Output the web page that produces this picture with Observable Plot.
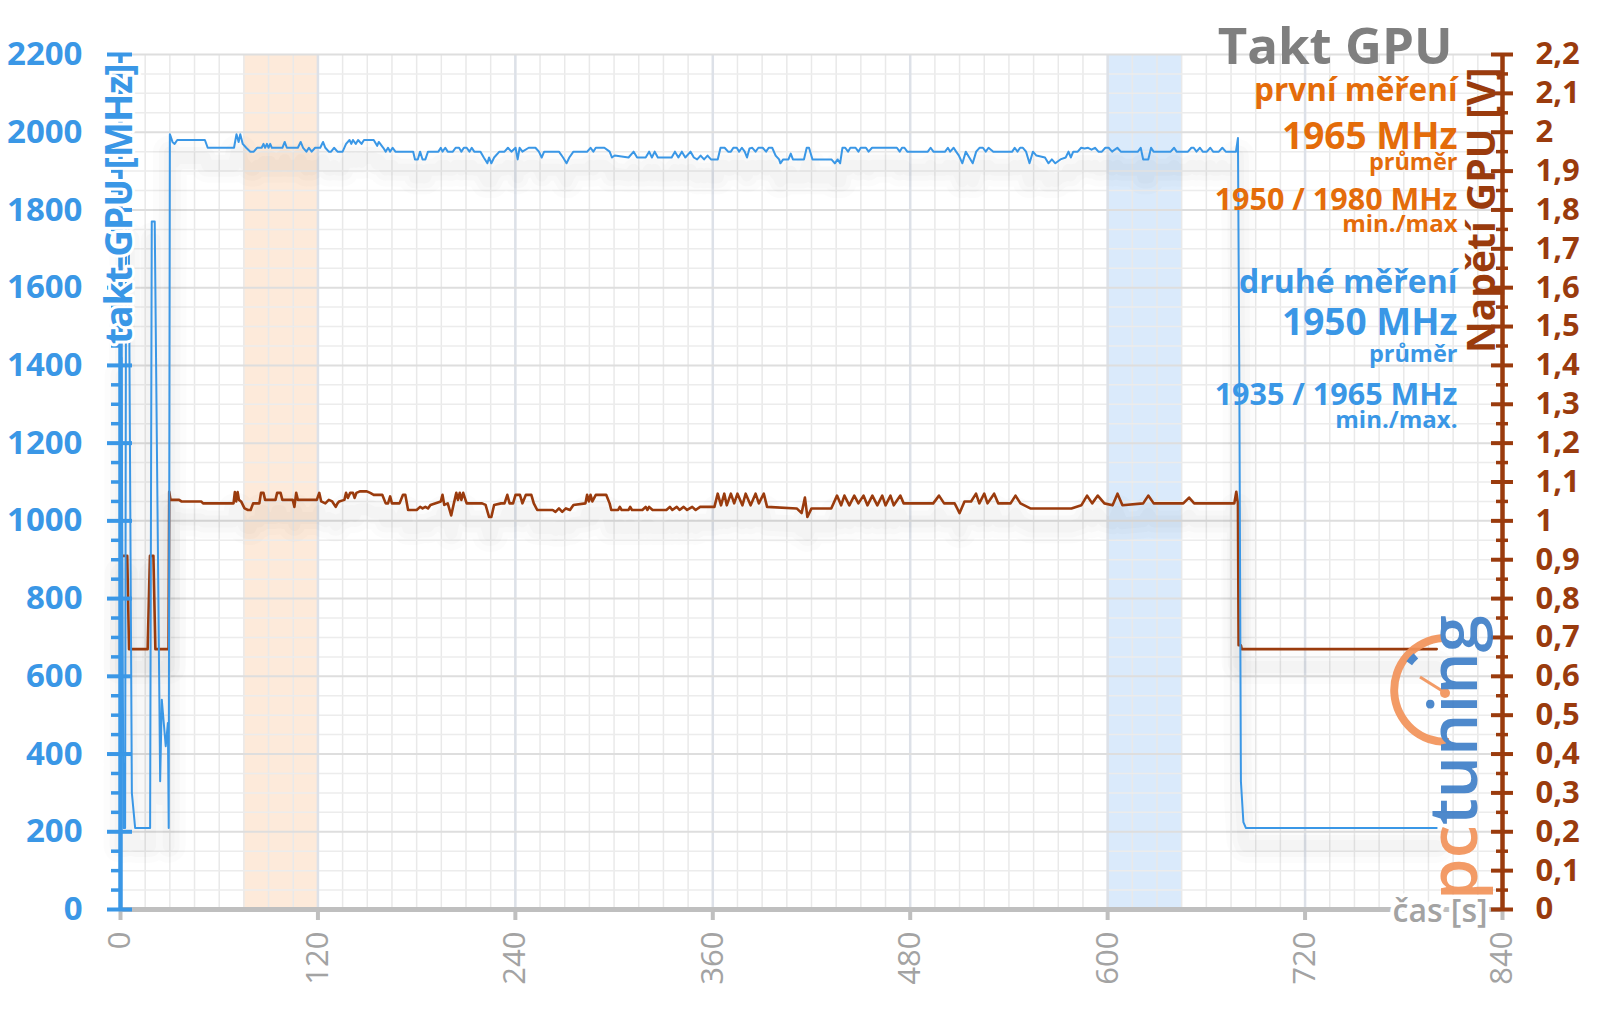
<!DOCTYPE html>
<html><head><meta charset="utf-8">
<script src="https://cdn.jsdelivr.net/npm/d3@7"></script>
<script src="https://cdn.jsdelivr.net/npm/@observablehq/plot@0.6"></script>
<style>
html,body{margin:0;padding:0;background:#fff;}
#chart{position:relative;width:1600px;height:1009px;overflow:hidden;}
svg{font-family:"Open Sans",sans-serif;}
</style></head><body><div id="chart"></div>
<script>
// ---------- data ----------
// GPU clock [s, MHz]
const clockSamples = [
[0,210],[0.6,1420],[1.8,210],[2.8,210],[3.4,1770],[5,1770],[6.9,300],[8.9,210],[18,210],[19,1770],[20.8,1770],[24.1,330],[25.1,540],[27.5,420],[28.8,480],[29.3,210],
[30,1995],[31.6,1975],[32.9,1970],[34.5,1980],[51.3,1980],[53,1960],[69,1960],[70.5,1995],[71.8,1975],[72.8,1995],[74.3,1970],[76.4,1960],[78.9,1950],[81,1950],[83,1960],
[85.8,1960],[86.9,1970],[87.9,1960],[89,1970],[90,1960],[91,1970],[92,1960],[98.4,1960],[99.8,1975],[101.1,1960],[107.8,1960],[109.5,1975],[111,1960],[113,1950],[114.5,1960],
[116.2,1950],[118.3,1960],[121.4,1960],[123.1,1975],[124.5,1960],[126.6,1950],[128,1950],[129.8,1960],[131.9,1950],[135,1950],[137.1,1970],[139.2,1980],[140.3,1970],[141.3,1980],
[143,1970],[144.4,1980],[146.5,1970],[148,1980],[153.9,1980],[156,1965],[157,1975],[159.7,1960],[161.2,1950],[162.6,1960],[163.9,1950],[165.4,1960],[167.1,1950],[177.9,1950],
[179,1930],[180.7,1930],[182.1,1950],[183.6,1930],[185.3,1930],[186.9,1950],[193.2,1950],[194.7,1960],[195.7,1950],[197.4,1960],[198.9,1950],[202,1950],[203.7,1960],[205.8,1960],
[207.2,1950],[208.7,1960],[210.4,1960],[212.1,1950],[213.5,1960],[215,1950],[218.8,1950],[220.8,1935],[223,1920],[224,1935],[225.4,1920],[227.1,1935],[230.3,1950],[233.4,1950],
[235.5,1960],[237.6,1950],[240.1,1960],[241.4,1930],[242.6,1960],[244.3,1950],[248.1,1960],[252.2,1960],[254.3,1950],[256,1935],[257.5,1950],[266.5,1950],[269,1935],[271.1,1920],
[272.8,1935],[275.3,1950],[283.7,1950],[285.7,1960],[287.4,1950],[288.9,1960],[294.1,1960],[297.3,1950],[298.7,1935],[300.4,1940],[308.8,1935],[311.9,1950],[314,1935],[319.2,1935],
[321.3,1950],[323,1935],[324.7,1950],[326.6,1935],[335,1935],[337,1950],[339.1,1935],[341.2,1950],[343.3,1935],[346.5,1950],[348.5,1935],[350.5,1930],[352.6,1940],[354.7,1930],
[356.8,1940],[358.9,1930],[363,1930],[364.7,1960],[367.2,1960],[369.3,1950],[371,1950],[372.5,1960],[374.6,1960],[376,1950],[377.7,1960],[379.4,1950],[380.8,1935],[382.3,1958],
[384,1960],[386,1950],[387.7,1960],[390.3,1960],[392.4,1950],[394,1960],[396.1,1960],[398.2,1940],[400.3,1930],[401.1,1920],[402.8,1930],[406,1930],[407.4,1945],[408.7,1930],
[415.4,1930],[417.1,1960],[418.5,1960],[420.6,1930],[432.1,1930],[434.2,1920],[435.9,1930],[437.4,1920],[438.8,1960],[440.5,1960],[442.2,1950],[443.6,1960],[446.8,1960],[448.5,1950],
[449.9,1960],[453.1,1960],[454.7,1950],[456.8,1960],[471.9,1960],[473.6,1950],[475,1960],[476.5,1960],[478.2,1950],[490.7,1950],[492.4,1960],[494.1,1950],[501.2,1950],[502.9,1960],
[504.3,1950],[506.4,1960],[507.9,1950],[509.6,1940],[511.7,1920],[513.8,1950],[515.9,1935],[518,1920],[520.1,1950],[522.1,1960],[524.2,1960],[525.9,1950],[527.6,1960],[530.5,1950],
[542,1950],[543.5,1960],[545.2,1950],[546.8,1960],[548.5,1960],[550.4,1950],[552.5,1920],[554.6,1950],[556.7,1940],[561.9,1935],[564,1920],[566.1,1930],[568.2,1920],[571.3,1930],
[574.5,1935],[576.2,1950],[577.6,1935],[579.1,1950],[581.8,1950],[583.9,1960],[586,1958],[588.1,1960],[590.2,1955],[592.3,1960],[594.4,1950],[596.5,1950],[598.6,1960],[600.6,1960],
[602.7,1950],[605.9,1960],[608,1950],[618.4,1950],[620.1,1960],[621.6,1930],[624.7,1930],[626.4,1960],[627.9,1950],[638.3,1950],[640.4,1960],[641.9,1950],[648.8,1950],[650.9,1960],
[652.3,1960],[654,1950],[656.1,1960],[657.8,1950],[660.3,1950],[662.4,1960],[664.1,1950],[667.6,1950],[669.7,1960],[671.8,1950],[674.5,1950],[678,1950],[679.2,1985],[680,1400],
[681,330],[682.5,225],[684,210],[800,210]
];
// GPU voltage [s, V]
const voltSamples = [
[0,0.67],[0.6,0.91],[4.1,0.91],[5.2,0.67],[16.5,0.67],[17.9,0.91],[20,0.91],[21.2,0.67],[29.2,0.67],[29.6,1.075],[30.4,1.054],[35.6,1.054],[37,1.05],[49,1.05],[50.2,1.045],
[68.7,1.045],[69.5,1.074],[70.3,1.05],[71.2,1.074],[72,1.054],[73.3,1.05],[75.4,1.032],[77.5,1.028],[79.1,1.028],[80.6,1.045],[84.4,1.045],[85.4,1.072],[86.9,1.072],[87.9,1.054],
[94.2,1.054],[95.2,1.072],[97.3,1.072],[98.4,1.054],[104.7,1.054],[105.7,1.036],[106.8,1.072],[107.8,1.054],[119.3,1.054],[120.8,1.072],[122,1.05],[124.5,1.045],[126.6,1.054],
[128.7,1.05],[130.8,1.036],[131.9,1.045],[132.9,1.05],[136.1,1.054],[137.1,1.072],[138.2,1.059],[139.6,1.072],[141.3,1.072],[142.3,1.059],[143.4,1.072],[145.5,1.076],[149.7,1.076],
[151.8,1.072],[153.9,1.067],[159.1,1.067],[161.2,1.045],[162.6,1.045],[163.9,1.063],[165,1.045],[169.6,1.045],[171.7,1.067],[173.1,1.067],[174.8,1.028],[180,1.028],[182.1,1.036],
[183.6,1.032],[185.3,1.036],[186.9,1.032],[188.4,1.041],[194.7,1.05],[195.7,1.067],[196.8,1.041],[198.9,1.045],[201,1.014],[202.4,1.041],[204.1,1.072],[205.1,1.054],[206.2,1.072],
[207.2,1.054],[208.3,1.072],[210.4,1.045],[219.8,1.045],[221.9,1.041],[224,1.01],[225.4,1.01],[227.1,1.041],[231.3,1.045],[233.4,1.045],[235.1,1.067],[236.5,1.045],[238.6,1.045],
[240.1,1.067],[242.8,1.067],[244.3,1.045],[246.4,1.067],[249.7,1.067],[251.2,1.045],[253.3,1.028],[262.7,1.028],[264.4,1.023],[266.5,1.032],[268.5,1.023],[270.7,1.032],[273.2,1.028],
[275.3,1.041],[282.6,1.045],[283.6,1.067],[284.7,1.05],[285.7,1.067],[286.8,1.05],[288.9,1.067],[295.2,1.067],[297.3,1.045],[298.3,1.028],[302.5,1.028],[303.5,1.036],[304.6,1.028],
[308.8,1.028],[309.8,1.036],[310.9,1.028],[317.2,1.028],[319.2,1.036],[320.3,1.028],[321.3,1.036],[323.4,1.028],[331.8,1.028],[333.9,1.036],[335.4,1.028],[338.1,1.036],[339.8,1.028],
[342.3,1.036],[344.4,1.028],[347.5,1.036],[349.6,1.028],[352.3,1.036],[361,1.036],[363,1.07],[365,1.04],[367,1.07],[368.5,1.04],[371,1.07],[373,1.045],[375,1.07],[378,1.04],
[380,1.07],[383,1.04],[386,1.07],[388,1.045],[391,1.07],[393,1.036],[411,1.032],[414,1.02],[416,1.06],[417.5,1.01],[420,1.032],[432,1.032],[435.5,1.065],[438,1.04],[440,1.065],
[443,1.04],[446,1.065],[448.5,1.045],[451.6,1.065],[454,1.04],[457,1.065],[460,1.04],[463,1.065],[465,1.04],[468,1.065],[470,1.04],[474,1.065],[476,1.045],[494,1.045],[497.5,1.065],
[500.6,1.045],[507,1.045],[510,1.02],[513,1.05],[517,1.05],[520,1.07],[522,1.045],[525,1.07],[527,1.045],[531,1.07],[533.5,1.045],[541,1.045],[544,1.065],[547,1.045],[553,1.032],
[578,1.032],[584,1.04],[587.5,1.065],[590.6,1.045],[594,1.065],[598,1.045],[603,1.04],[606,1.07],[609,1.04],[621.6,1.045],[624.7,1.065],[628,1.045],[646,1.045],[649.5,1.06],
[652.6,1.045],[677,1.045],[678.2,1.075],[679.2,1.045],[679.6,0.68],[681,0.68],[681.5,0.67],[800,0.67]
];
const xTicks = [0, 120, 240, 360, 480, 600, 720, 840];
const yTicksMHz = [0, 200, 400, 600, 800, 1000, 1200, 1400, 1600, 1800, 2000, 2200];
const yTicksV = [0, 0.1, 0.2, 0.3, 0.4, 0.5, 0.6, 0.7, 0.8, 0.9, 1, 1.1, 1.2, 1.3, 1.4, 1.5, 1.6, 1.7, 1.8, 1.9, 2, 2.1, 2.2];
const bands = [
  {start: 75, end: 120, run: "první měření"},
  {start: 600, end: 645, run: "druhé měření"}
];
const titleText = "Takt GPU";
const legendTexts = ["první měření", "1965 MHz", "průměr", "1950 / 1980 MHz", "min./max",
                     "druhé měření", "1950 MHz", "průměr", "1935 / 1965 MHz", "min./max."];
const axisTitles = {left: "takt GPU [MHz]", right: "Napětí GPU [V]", bottom: "čas [s]"};

// ---------- styles ----------
const BLUE = "#3a97e6", BROWN = "#9a3b0d", ORANGE = "#e46c0a", GRAY = "#7f7f7f", XGRAY = "#a3a3a3";
const W = 1600, H = 1009, ML = 120, MR = 98, MT = 54, MB = 100;
const PW = W - ML - MR, PH = H - MT - MB;

const clock = clockSamples.map(([t, v]) => ({t, v}));
const volt = voltSamples.map(([t, v]) => ({t, mv: v * 1000}));
const mhzMinor = d3.range(50, 2200, 50).filter(d => d % 200 !== 0);
const vMajor = yTicksV.map(v => Math.round(v * 1000));
const vMinor = d3.range(50, 2200, 100);

// legend layout: [baseline y, font size, colour]
const legendLayout = [
  [100, 31.5, ORANGE], [148, 37, ORANGE], [169, 23.5, ORANGE], [209, 30.5, ORANGE], [231, 24, ORANGE],
  [292.5, 32, BLUE], [334, 37, BLUE], [361.5, 23.5, BLUE], [404, 30.5, BLUE], [427.5, 24, BLUE]
];

const legendMarks = legendTexts.map((txt, i) => {
  const [base, size, col] = legendLayout[i];
  return Plot.text([txt], {frameAnchor: "top-right", textAnchor: "end", lineAnchor: "bottom",
    dx: 1457 - (W - MR), dy: base - MT, fontSize: size, fontWeight: "bold", fill: col});
});

// soft shadow: a few wide translucent copies (no SVG filters)
const shadowMarks = [];
for (const [w, o] of [[34, 0.012], [22, 0.014], [12, 0.016]]) {
  shadowMarks.push(Plot.line(volt, {x: "t", y: "mv", stroke: "#000", strokeOpacity: o, strokeWidth: w, dy: 18}));
  shadowMarks.push(Plot.line(clock, {x: "t", y: "v", stroke: "#000", strokeOpacity: o, strokeWidth: w, dy: 18}));
}

const chart = Plot.plot({
  width: W, height: H, marginLeft: ML, marginRight: MR, marginTop: MT, marginBottom: MB,
  style: {fontFamily: "Open Sans, sans-serif", background: "white"},
  x: {domain: [0, 840]},
  y: {domain: [0, 2200]},
  marks: [
    Plot.rect(bands, {x1: "start", x2: "end", y1: 0, y2: 2200,
      fill: d => d.run === "první měření" ? "#fbd9bb" : "#bcd9f7", fillOpacity: 0.55}),
    Plot.ruleX(d3.range(0, 841, 15), {stroke: "#e9e9e9", strokeWidth: 1.5}),
    Plot.ruleY(mhzMinor, {stroke: "#ececec", strokeWidth: 1.5}),
    Plot.ruleX(xTicks, {stroke: "#dde1e8", strokeWidth: 2.5}),
    Plot.ruleY(yTicksMHz, {stroke: "#dedede", strokeWidth: 2}),
    // x axis base line
    Plot.ruleY([0], {stroke: "#bfbfbf", strokeWidth: 5}),
    Plot.tickX(xTicks, {stroke: "#bfbfbf", strokeWidth: 4, insetTop: PH, insetBottom: -11}),
    ...shadowMarks,
    // series
    Plot.line(volt, {x: "t", y: "mv", stroke: BROWN, strokeWidth: 2.6}),
    Plot.line(clock, {x: "t", y: "v", stroke: BLUE, strokeWidth: 2}),
    // left axis
    Plot.ruleX([0], {stroke: BLUE, strokeWidth: 4.5}),
    Plot.tickY(yTicksMHz, {stroke: BLUE, strokeWidth: 4, insetLeft: -13, insetRight: PW - 12}),
    Plot.tickY(mhzMinor, {stroke: BLUE, strokeWidth: 3.5, insetLeft: -9, insetRight: PW}),
    Plot.axisY(yTicksMHz, {anchor: "left", tickSize: 0, tickPadding: 38, fontSize: 33,
      fontWeight: "bold", color: BLUE, label: null, tickFormat: d => String(d)}),
    // right axis
    Plot.ruleX([840], {stroke: BROWN, strokeWidth: 4.5}),
    Plot.tickY(vMajor, {stroke: BROWN, strokeWidth: 4, insetLeft: PW - 11, insetRight: -11}),
    Plot.tickY(vMinor, {stroke: BROWN, strokeWidth: 3.5, insetLeft: PW - 6, insetRight: -6}),
    Plot.axisY(vMajor, {anchor: "right", tickSize: 0, tickPadding: 33, fontSize: 31,
      fontWeight: "bold", color: BROWN, label: null,
      tickFormat: d => String(+(d / 1000).toFixed(1)).replace(".", ",")}),
    // x axis labels
    Plot.axisX(xTicks, {anchor: "bottom", tickSize: 0, tickPadding: 22, tickRotate: -90,
      fontSize: 31, color: XGRAY, label: null}),
    // axis titles
    Plot.text([axisTitles.left], {frameAnchor: "top-left", rotate: -90, textAnchor: "end",
      lineAnchor: "middle", dy: 9, fontSize: 37, fontWeight: "bold", fill: BLUE,
      stroke: "white", strokeWidth: 6, paintOrder: "stroke"}),
    Plot.text([axisTitles.right], {frameAnchor: "top-right", rotate: -90, textAnchor: "end",
      lineAnchor: "middle", dx: -20, dy: 13, fontSize: 39, fontWeight: "bold", fill: BROWN}),
    Plot.text([axisTitles.bottom], {frameAnchor: "bottom-right", textAnchor: "end",
      lineAnchor: "middle", dx: -15, dy: 2, fontSize: 32, fontWeight: 600, fill: XGRAY,
      stroke: "white", strokeWidth: 8, paintOrder: "stroke"}),
    // legend
    Plot.text([titleText], {frameAnchor: "top-right", textAnchor: "end", lineAnchor: "bottom",
      dx: 1452 - (W - MR), dy: 63 - MT, fontSize: 51, fontWeight: "bold", fill: GRAY}),
    ...legendMarks
  ]
});
document.getElementById("chart").appendChild(chart);

// pctuning watermark
const svg = d3.select(chart);
const logo = svg.append("g").attr("opacity", 0.92);
const cx = 1446, cy = 690, r = 52;
logo.append("path").attr("d", d3.arc()({innerRadius: r - 4, outerRadius: r + 4, startAngle: -Math.PI * 0.02, endAngle: -Math.PI * 1.02}))
  .attr("transform", `translate(${cx},${cy})`).attr("fill", "#f2935a");
logo.append("path").attr("d", d3.arc()({innerRadius: r - 10, outerRadius: r - 3, startAngle: -Math.PI * 0.23, endAngle: -Math.PI * 0.3}))
  .attr("transform", `translate(${cx},${cy})`).attr("fill", "#3f7fc8");
logo.append("line").attr("x1", 1420).attr("y1", 677).attr("x2", 1444).attr("y2", 692)
  .attr("stroke", "#f2935a").attr("stroke-width", 3);
logo.append("circle").attr("cx", 1445).attr("cy", 693).attr("r", 5).attr("fill", "#f2935a");
const lt = logo.append("text").attr("transform", "translate(1477,900) rotate(-90)")
  .attr("text-anchor", "start")
  .attr("font-family", "Open Sans, sans-serif").attr("font-weight", 600).attr("font-size", 67);
lt.append("tspan").attr("fill", "#f2935a").text("pc");
lt.append("tspan").attr("fill", "#3f7fc8").text("tuning");
</script>
</body></html>
